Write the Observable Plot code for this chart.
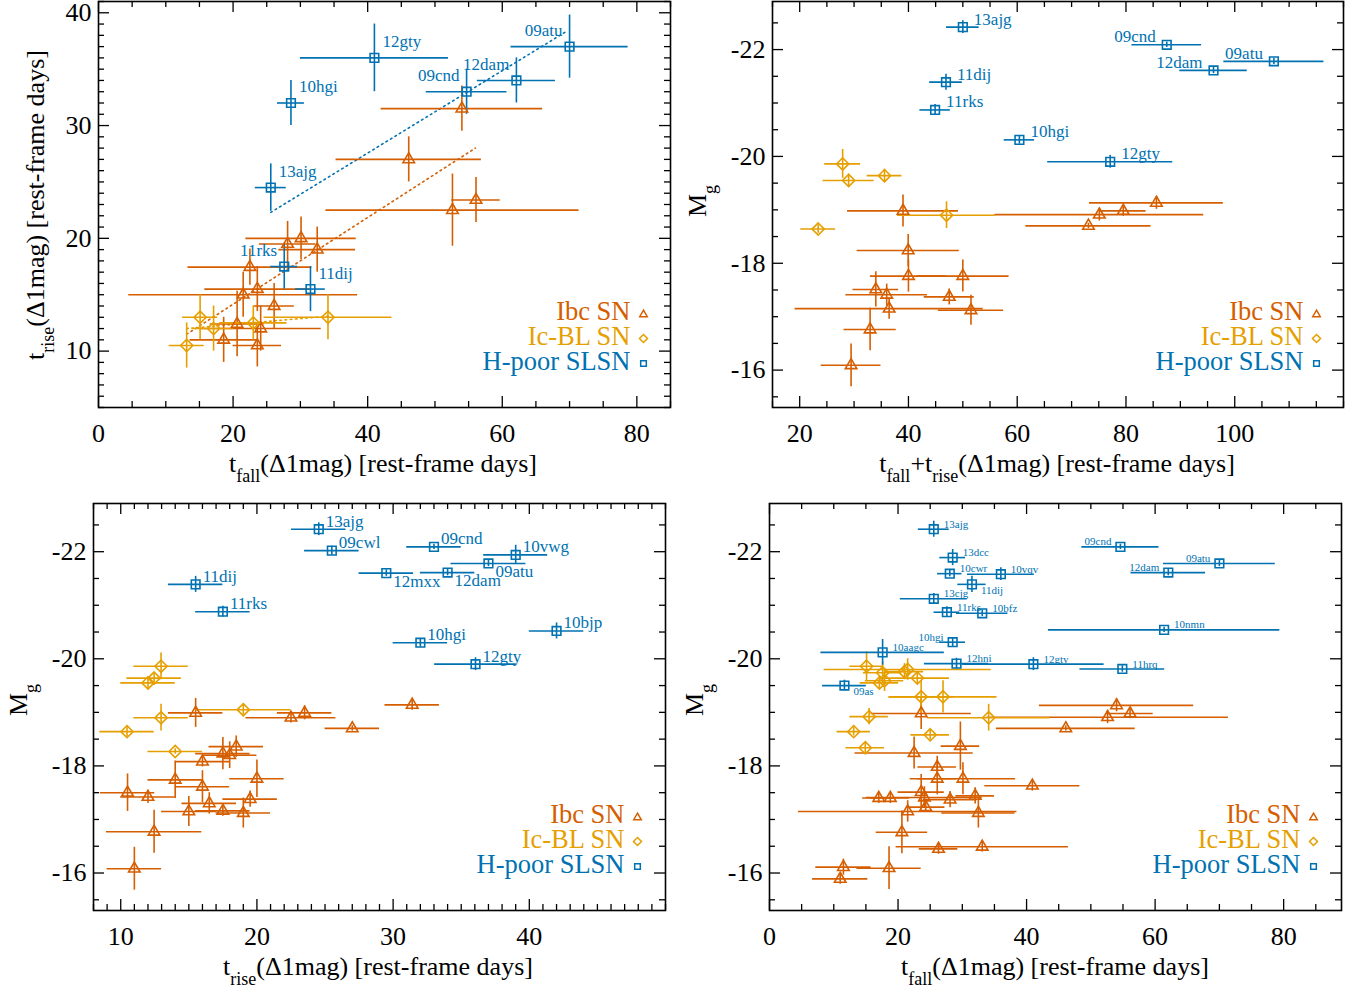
<!DOCTYPE html>
<html><head><meta charset="utf-8">
<script src="https://cdn.jsdelivr.net/npm/d3@7"></script>
<script src="https://cdn.jsdelivr.net/npm/@observablehq/plot@0.6"></script>
<style>
body{margin:0;background:#fff;}
#wrap{position:relative;width:1364px;height:993px;background:#fff;font-family:'Liberation Serif','Times New Roman',serif;}
.pan{position:absolute;}
.ttl{position:absolute;font-size:26px;line-height:26px;white-space:nowrap;color:#000;}
.ttl sub{font-size:18px;vertical-align:-10px;line-height:0;}
</style></head>
<body><div id="wrap"></div>
<script>
// ---------------- DATA ----------------
// Panel A: t_fall vs t_rise.  SLSN rows: [name, tfall, err, trise, err]
const slsnA = [["12gty",41.0,11.0,36.0,3.0],["10hgi",28.6,2.0,32.0,2.0],["13ajg",25.6,2.3,24.5,2.1],["09cnd",54.7,6.0,33.0,2.0],["12dam",62.1,5.8,34.0,2.0],["09atu",70.0,8.7,37.0,2.8],["11rks",27.6,2.0,17.5,2.0],["11dij",31.5,2.2,15.5,2.0]];
const ibcA = [[54.0,12.0,31.5,2.0],[46.1,10.8,27.0,2.0],[52.6,18.8,22.5,3.2],[56.1,3.6,23.4,2.0],[30.1,8.2,20.0,1.9],[28.1,4.2,19.5,2.0],[32.5,5.7,19.0,2.0],[22.5,9.2,17.45,1.6],[23.6,7.8,15.5,2.0],[21.5,17.0,15.0,2.0],[26.1,3.0,14.0,2.0],[20.6,4.0,12.4,2.9],[24.1,9.0,12.0,2.0],[18.6,5.0,11.0,2.0],[23.6,3.6,10.5,1.9]];
const icblA = [[15.1,2.6,13.0,2.0],[17.1,3.0,12.0,2.0],[13.1,2.6,10.5,2.0],[23.0,5.0,12.5,1.5],[34.1,9.5,13.0,2.0]];
const fitSlsnA = [[25.6,22.3],[69.4,38.3]];
const fitIbcA = [[13.1,11.5],[56.0,28.0]];
const fitIcblA = [[13.1,12.0],[34.1,13.1]];
// Panel B: t_fall+t_rise vs M_g
const slsnB = [["13ajg",50.0,3.0,-22.42,0.12],["11dij",46.9,3.0,-21.39,0.15],["11rks",44.9,2.8,-20.87,0.1],["10hgi",60.4,2.8,-20.31,0.08],["12gty",77.1,11.5,-19.90,0.12],["09cnd",87.5,6.4,-22.09,0.05],["12dam",96.1,6.2,-21.61,0.06],["09atu",107.2,9.2,-21.78,0.06]];
const ibcB = [[39.0,10.2,-18.98,0.3],[39.95,9.4,-18.24,0.3],[40.0,7.0,-17.76,0.3],[50.0,8.5,-17.76,0.3],[34.0,4.2,-17.51,0.33],[36.0,7.5,-17.41,0.2],[36.45,17.3,-17.15,0.2],[47.5,4.6,-17.37,0.15],[51.5,6.0,-17.12,0.28],[32.95,4.8,-16.76,0.4],[29.45,5.5,-16.09,0.4],[85.6,12.3,-19.13,0.12],[79.5,4.2,-18.98,0.1],[75.1,19.2,-18.91,0.12],[73.1,11.5,-18.70,0.05]];
const icblB = [[27.9,3.3,-19.86,0.27],[29.0,4.7,-19.55,0.12],[35.6,3.2,-19.64,0.12],[47.0,9.0,-18.90,0.25],[23.4,3.2,-18.64,0.08]];
// Panel C: t_rise vs M_g
const slsnC = [["13ajg",24.54,2.0,-22.42,0.12],["09cwl",25.5,2.0,-22.02,0.08],["11dij",15.5,2.0,-21.39,0.15],["11rks",17.5,2.0,-20.88,0.1],["12mxx",29.5,2.0,-21.60,0.06],["09cnd",33.0,2.0,-22.09,0.05],["10vwg",39.0,2.35,-21.94,0.18],["09atu",37.0,2.75,-21.78,0.06],["12dam",34.0,2.0,-21.61,0.06],["10hgi",32.0,2.0,-20.30,0.08],["10bjp",42.0,2.0,-20.52,0.15],["12gty",36.05,3.0,-19.90,0.12]];
const ibcC = [[15.5,2.0,-18.99,0.27],[22.5,3.3,-18.90,0.1],[23.5,2.0,-18.99,0.13],[27.0,2.0,-18.70,0.05],[31.4,2.0,-19.14,0.1],[18.48,2.0,-18.36,0.2],[17.5,2.0,-18.23,0.3],[18.0,2.0,-18.20,0.25],[16.0,2.0,-18.08,0.1],[14.0,2.0,-17.74,0.35],[20.0,2.0,-17.76,0.35],[16.0,2.0,-17.61,0.3],[10.5,2.0,-17.50,0.35],[12.0,2.0,-17.42,0.12],[19.5,2.0,-17.38,0.15],[16.5,2.0,-17.30,0.2],[15.0,2.0,-17.15,0.28],[17.5,2.0,-17.16,0.1],[19.0,2.0,-17.12,0.28],[12.45,3.5,-16.77,0.4],[11.0,2.0,-16.08,0.4]];
const icblC = [[12.96,2.0,-19.86,0.25],[12.45,2.0,-19.64,0.1],[12.0,2.0,-19.55,0.12],[19.0,3.5,-19.05,0.1],[12.96,2.0,-18.90,0.25],[10.46,2.0,-18.64,0.1],[14.0,2.0,-18.27,0.05]];
// Panel D: t_fall vs M_g
const slsnD = [["13ajg",25.56,2.4,-22.42,0.15],["13dcc",28.5,2.0,-21.89,0.15],["10cwr",28.05,1.9,-21.59,0.06],["10vqv",36.0,5.2,-21.58,0.12],["11dij",31.5,2.2,-21.39,0.15],["13cjg",25.56,5.2,-21.12,0.1],["11rks",27.6,2.0,-20.87,0.1],["10bfz",33.1,4.0,-20.85,0.06],["10hgi",28.5,2.0,-20.31,0.08],["10aagc",17.6,9.6,-20.12,0.24],["12hni",29.1,5.0,-19.91,0.1],["12gty",41.06,11.0,-19.90,0.12],["09as",11.66,3.4,-19.50,0.1],["09cnd",54.6,6.0,-22.09,0.05],["09atu",70.0,8.7,-21.78,0.06],["12dam",62.05,5.8,-21.61,0.06],["10nmn",61.4,18.0,-20.54,0.05],["11hrq",54.9,6.6,-19.81,0.06]];
const ibcD = [[54.0,12.0,-19.13,0.12],[46.1,10.8,-18.70,0.05],[52.6,18.8,-18.91,0.12],[56.1,3.6,-18.98,0.1],[30.1,8.2,-17.76,0.3],[28.1,4.2,-17.37,0.15],[32.5,5.7,-17.12,0.28],[22.5,9.2,-18.24,0.3],[23.6,7.8,-18.98,0.3],[21.5,17.0,-17.15,0.2],[26.1,3.0,-17.76,0.3],[20.6,4.0,-16.76,0.4],[24.1,9.0,-17.41,0.2],[18.6,5.0,-16.09,0.4],[23.6,3.6,-17.51,0.33],[29.7,3.0,-18.37,0.45],[26.1,3.0,-17.98,0.2],[40.9,7.4,-17.63,0.1],[17.0,2.5,-17.40,0.1],[18.8,3.0,-17.40,0.1],[32.0,3.0,-17.44,0.15],[24.3,3.0,-17.23,0.1],[26.3,3.0,-16.45,0.1],[33.1,13.4,-16.49,0.1],[11.5,4.3,-16.11,0.15],[11.0,4.3,-15.89,0.1]];
const icblD = [[15.1,2.6,-19.86,0.27],[17.1,3.0,-19.55,0.12],[13.1,2.6,-18.64,0.08],[23.0,5.0,-19.64,0.12],[34.1,9.5,-18.90,0.25],[17.6,3.0,-19.74,0.2],[21.0,3.0,-19.76,0.15],[21.5,13.0,-19.80,0.2],[17.9,3.0,-19.59,0.2],[23.6,5.0,-19.29,0.3],[27.0,8.4,-19.29,0.3],[15.5,3.0,-18.92,0.15],[25.0,3.0,-18.58,0.1],[14.9,3.0,-18.34,0.1]];
// tick labels
const ticksA_x = [0,20,40,60,80], ticksA_y = [10,20,30,40];
const ticksB_x = [20,40,60,80,100];
const ticksC_x = [10,20,30,40];
const ticksD_x = [0,20,40,60,80];
const ticksMg = [-22,-20,-18,-16];
const legendLabels = ["Ibc SN","Ic-BL SN","H-poor SLSN"];
// label placement (styling)
const placeA = {"12gty":"ne","10hgi":"ne","13ajg":"ne","09cnd":"nw","12dam":"nw","09atu":"nw","11rks":"nw","11dij":"ne"};
const placeB = {"13ajg":"ne","11dij":"ne","11rks":"ne","10hgi":"ne","12gty":"ne","09cnd":"nw","12dam":"nw","09atu":"nw"};
const placeC = {"12mxx":"se","09atu":"se","12dam":"se"};
const placeD = {"11dij":"se","09as":"se","10hgi":"nw","09cnd":"nw","09atu":"nw","12dam":"nw"};

// ---------------- DRAWING ----------------
const C_IBC = "#D55E00", C_ICBL = "#E69F00", C_SLSN = "#0072B2";
const FONT = "'Liberation Serif','Times New Roman',serif";
const toObj = r => r.length === 5 ? {name:r[0],x:r[1],xe:r[2],y:r[3],ye:r[4]} : {x:r[0],xe:r[1],y:r[2],ye:r[3]};

function errs(data, color){
  return [
    Plot.ruleY(data,{y:"y",x1:d=>d.x-d.xe,x2:d=>d.x+d.xe,stroke:color,strokeWidth:1.6}),
    Plot.ruleX(data,{x:"x",y1:d=>d.y-d.ye,y2:d=>d.y+d.ye,stroke:color,strokeWidth:1.6})
  ];
}
function pts(data,color,symbol,r){
  return Plot.dot(data,{x:"x",y:"y",symbol,r,fill:"none",stroke:color,strokeWidth:1.6});
}
function makePanel(cfg){
  const {W,H,ml,mr,mt,mb,xd,yd,xMaj,xStep,yMaj,yStep,slsn,ibc,icbl,place,off,lblSize,extra,legDx} = cfg;
  const fw = W-ml-mr, fh = H-mt-mb;
  const mk = (lo,hi,st,maj)=>d3.range(Math.ceil(lo/st-1e-9)*st, hi+1e-9, st).map(v=>+v.toFixed(3)).filter(v=>!maj.some(m=>Math.abs(m-v)<1e-6));
  const xlo=Math.min(...xd), xhi=Math.max(...xd), ylo=Math.min(...yd), yhi=Math.max(...yd);
  const xMin = mk(xlo,xhi,xStep,xMaj), yMin = mk(ylo,yhi,yStep,yMaj);
  const S = slsn.map(toObj), I = ibc.map(toObj), B = icbl.map(toObj);
  const lab = [];
  for (const dir of ["ne","nw","se"]) {
    const sub = S.filter(d => (place[d.name]||"ne")===dir);
    if (!sub.length) continue;
    const o = off[dir];
    lab.push(Plot.text(sub,{x:"x",y:"y",text:"name",dx:o[0],dy:o[1],textAnchor:dir==="nw"?"end":"start",lineAnchor:"middle",fill:C_SLSN,fontSize:lblSize,fontFamily:FONT}));
  }
  const TL=11, tl=6, LF=26.5;
  const marks = [
    ...(extra||[]),
    ...errs(I,C_IBC), ...errs(B,C_ICBL), ...errs(S,C_SLSN),
    pts(I,C_IBC,"triangle2",5.5), pts(B,C_ICBL,"diamond2",5.5), pts(S,C_SLSN,"square2",5.5),
    ...lab,
    // legend
    Plot.text([legendLabels[0]],{frameAnchor:"bottom-right",dx:legDx,dy:-96,text:d=>d,textAnchor:"end",lineAnchor:"middle",fill:C_IBC,fontSize:LF,fontFamily:FONT}),
    Plot.text([legendLabels[1]],{frameAnchor:"bottom-right",dx:legDx,dy:-71,text:d=>d,textAnchor:"end",lineAnchor:"middle",fill:C_ICBL,fontSize:LF,fontFamily:FONT}),
    Plot.text([legendLabels[2]],{frameAnchor:"bottom-right",dx:legDx,dy:-46,text:d=>d,textAnchor:"end",lineAnchor:"middle",fill:C_SLSN,fontSize:LF,fontFamily:FONT}),
    Plot.dot([0],{frameAnchor:"bottom-right",dx:legDx+13,dy:-93,symbol:"triangle2",r:3.6,fill:"none",stroke:C_IBC,strokeWidth:1.5}),
    Plot.dot([0],{frameAnchor:"bottom-right",dx:legDx+13,dy:-69,symbol:"diamond2",r:3.6,fill:"none",stroke:C_ICBL,strokeWidth:1.5}),
    Plot.dot([0],{frameAnchor:"bottom-right",dx:legDx+13,dy:-44,symbol:"square2",r:3.6,fill:"none",stroke:C_SLSN,strokeWidth:1.5}),
    // ticks (inward, all sides)
    Plot.tickX(xMaj,{x:d=>d,insetTop:fh-TL,stroke:"#000",strokeWidth:1.3}),
    Plot.tickX(xMaj,{x:d=>d,insetBottom:fh-TL,stroke:"#000",strokeWidth:1.3}),
    Plot.tickX(xMin,{x:d=>d,insetTop:fh-tl,stroke:"#000",strokeWidth:1.3}),
    Plot.tickX(xMin,{x:d=>d,insetBottom:fh-tl,stroke:"#000",strokeWidth:1.3}),
    Plot.tickY(yMaj,{y:d=>d,insetRight:fw-TL,stroke:"#000",strokeWidth:1.3}),
    Plot.tickY(yMaj,{y:d=>d,insetLeft:fw-TL,stroke:"#000",strokeWidth:1.3}),
    Plot.tickY(yMin,{y:d=>d,insetRight:fw-tl,stroke:"#000",strokeWidth:1.3}),
    Plot.tickY(yMin,{y:d=>d,insetLeft:fw-tl,stroke:"#000",strokeWidth:1.3}),
    Plot.axisX({ticks:xMaj,tickSize:0,tickPadding:16,tickFormat:d=>String(d),label:null,fontSize:26}),
    Plot.axisY({ticks:yMaj,tickSize:0,tickPadding:7,tickFormat:d=>String(d),label:null,fontSize:26}),
    Plot.frame({stroke:"#000",strokeWidth:1.6})
  ];
  const svg = Plot.plot({width:W,height:H,marginLeft:ml,marginRight:mr,marginTop:mt,marginBottom:mb,
    x:{domain:xd},y:{domain:yd},
    style:{fontFamily:FONT,fontSize:"26px",color:"#000",background:"transparent",overflow:"visible"},
    marks});
  return svg;
}
const wrap = document.getElementById("wrap");
function place(el,l,t){el.classList.add("pan");el.style.left=l+"px";el.style.top=t+"px";wrap.appendChild(el);}

const fitMarks = [
  Plot.line(fitSlsnA,{x:d=>d[0],y:d=>d[1],stroke:C_SLSN,strokeWidth:1.6,strokeDasharray:"1.6,3.6"}),
  Plot.line(fitIbcA,{x:d=>d[0],y:d=>d[1],stroke:C_IBC,strokeWidth:1.6,strokeDasharray:"1.6,3.6"}),
  Plot.line(fitIcblA,{x:d=>d[0],y:d=>d[1],stroke:C_ICBL,strokeWidth:1.6,strokeDasharray:"1.6,3.6"})
];
const offBig = {ne:[8,-16],nw:[-7,-16],se:[8,14]};
place(makePanel({W:690,H:490,ml:98,mr:20,mt:1,mb:83,xd:[0,85],yd:[5,41],xMaj:ticksA_x,xStep:5,yMaj:ticksA_y,yStep:1,
  slsn:slsnA,ibc:ibcA,icbl:icblA,place:placeA,off:offBig,lblSize:17,extra:fitMarks,legDx:-40}),0,0);
place(makePanel({W:674,H:490,ml:82,mr:21,mt:1,mb:83,xd:[15,120],yd:[-15.3,-22.9],xMaj:ticksB_x,xStep:5,yMaj:ticksMg,yStep:0.5,
  slsn:slsnB,ibc:ibcB,icbl:icblB,place:placeB,off:{ne:[11,-8],nw:[-11,-8],se:[10,8]},lblSize:17,legDx:-40}),690,0);
place(makePanel({W:690,H:500,ml:93,mr:25,mt:10,mb:83,xd:[8,50],yd:[-15.3,-22.9],xMaj:ticksC_x,xStep:1,yMaj:ticksMg,yStep:0.5,
  slsn:slsnC,ibc:ibcC,icbl:icblC,place:placeC,off:{ne:[7,-8],nw:[-7,-8],se:[7,8]},lblSize:17,legDx:-41}),0,493);
place(makePanel({W:674,H:500,ml:79,mr:23,mt:10,mb:83,xd:[0,89],yd:[-15.3,-22.9],xMaj:ticksD_x,xStep:5,yMaj:ticksMg,yStep:0.5,
  slsn:slsnD,ibc:ibcD,icbl:icblD,place:placeD,off:{ne:[10,-5],nw:[-9,-5],se:[9,6]},lblSize:11,legDx:-41}),690,493);

// axis titles (HTML for subscripts)
function title(html,cx,cy,rot){
  const d=document.createElement("div");d.className="ttl";d.innerHTML=html;
  d.style.left=cx+"px";d.style.top=cy+"px";
  d.style.transform="translate(-50%,-50%)"+(rot?" rotate(-90deg)":"");
  wrap.appendChild(d);
}
title("t<sub>fall</sub>(Δ1mag) [rest-frame days]",383,464,false);
title("t<sub>rise</sub>(Δ1mag) [rest-frame days]",36,205,true);
title("t<sub>fall</sub>+t<sub>rise</sub>(Δ1mag) [rest-frame days]",1057,464,false);
title("M<sub>g</sub>",698,201,true);
title("t<sub>rise</sub>(Δ1mag) [rest-frame days]",378,967,false);
title("M<sub>g</sub>",19,700,true);
title("t<sub>fall</sub>(Δ1mag) [rest-frame days]",1055,967,false);
title("M<sub>g</sub>",695,700,true);
</script></body></html>
